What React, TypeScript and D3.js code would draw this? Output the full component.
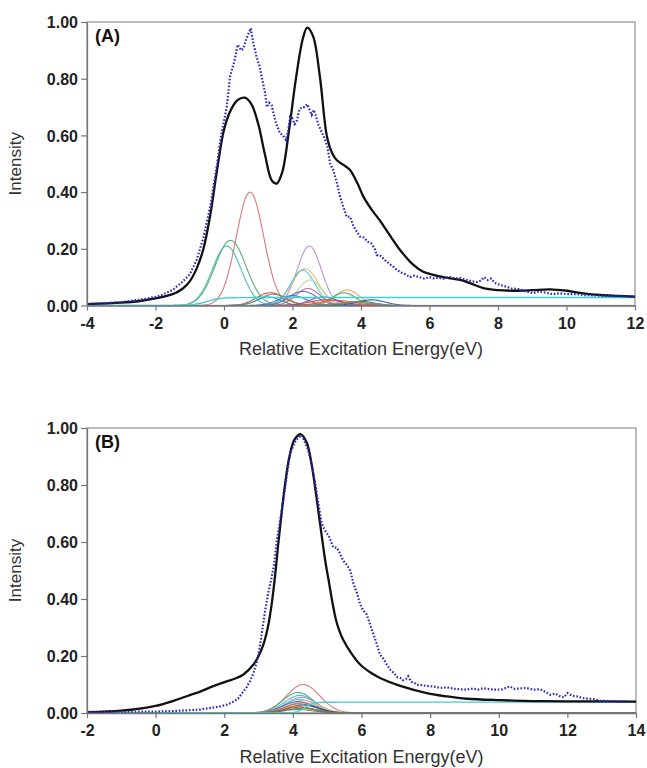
import React, { useEffect, useRef } from "react";
import * as d3 from "d3";

// ---------- Panel A data ----------
const aCalcE = [-4, -3, -2.5, -2, -1.5, -1.2, -1.0, -0.8, -0.6, -0.4, -0.2, 0.0, 0.2, 0.4, 0.61, 0.8, 1.0, 1.2, 1.4, 1.54, 1.7, 1.9, 2.1, 2.3, 2.43, 2.6, 2.8, 3.0, 3.15, 3.29, 3.5, 3.68, 3.9, 4.07, 4.3, 4.55, 4.8, 5.14, 5.53, 5.8, 6.11, 6.5, 6.89, 7.2, 7.57, 8.0, 8.45, 9.0, 9.52, 10.0, 10.49, 11.0, 11.5, 12.0];
const aCalcI = [0.005, 0.01, 0.015, 0.025, 0.04, 0.06, 0.085, 0.13, 0.2, 0.32, 0.48, 0.62, 0.69, 0.725, 0.733, 0.71, 0.64, 0.53, 0.44, 0.43, 0.47, 0.62, 0.8, 0.94, 0.98, 0.95, 0.807, 0.6, 0.54, 0.513, 0.495, 0.478, 0.43, 0.384, 0.34, 0.3, 0.255, 0.196, 0.143, 0.12, 0.108, 0.098, 0.09, 0.078, 0.061, 0.054, 0.052, 0.054, 0.057, 0.052, 0.043, 0.037, 0.034, 0.031];

const aExpE = [-4.0, -3.5, -3.0, -2.5, -2.0, -1.8, -1.5, -1.2, -1.0, -0.8, -0.6, -0.4, -0.2, -0.1, 0.0, 0.08, 0.18, 0.3, 0.4, 0.5, 0.56, 0.65, 0.78, 0.85, 0.95, 1.05, 1.1, 1.2, 1.25, 1.32, 1.39, 1.5, 1.63, 1.72, 1.81, 1.88, 1.93, 2.0, 2.06, 2.12, 2.2, 2.27, 2.35, 2.43, 2.5, 2.56, 2.62, 2.68, 2.75, 2.82, 2.9, 2.95, 3.02, 3.1, 3.19, 3.3, 3.39, 3.48, 3.58, 3.68, 3.78, 3.88, 3.97, 4.08, 4.2, 4.3, 4.4, 4.46, 4.55, 4.7, 4.85, 4.94, 5.05, 5.2, 5.3, 5.43, 5.55, 5.7, 5.85, 6.0, 6.11, 6.25, 6.4, 6.6, 6.75, 6.9, 7.09, 7.25, 7.4, 7.5, 7.6, 7.7, 7.8, 7.9, 8.0, 8.25, 8.4, 8.6, 8.8, 9.03, 9.2, 9.4, 9.6, 9.81, 10.0, 10.3, 10.5, 11.0, 11.5, 12.0];
const aExpI = [0.005, 0.008, 0.012, 0.02, 0.03, 0.038, 0.055, 0.085, 0.11, 0.16, 0.24, 0.35, 0.5, 0.59, 0.65, 0.7, 0.81, 0.86, 0.92, 0.9, 0.905, 0.94, 0.978, 0.93, 0.877, 0.84, 0.807, 0.75, 0.7, 0.715, 0.707, 0.65, 0.608, 0.6, 0.584, 0.62, 0.666, 0.66, 0.64, 0.648, 0.69, 0.7, 0.7, 0.71, 0.69, 0.672, 0.69, 0.67, 0.64, 0.62, 0.6, 0.584, 0.56, 0.5, 0.478, 0.43, 0.384, 0.35, 0.313, 0.313, 0.28, 0.26, 0.243, 0.24, 0.225, 0.219, 0.2, 0.178, 0.178, 0.16, 0.145, 0.137, 0.125, 0.115, 0.11, 0.1, 0.105, 0.1, 0.095, 0.1, 0.096, 0.098, 0.095, 0.1, 0.095, 0.097, 0.09, 0.085, 0.083, 0.088, 0.1, 0.09, 0.095, 0.08, 0.075, 0.066, 0.06, 0.058, 0.05, 0.043, 0.05, 0.045, 0.04, 0.043, 0.04, 0.04, 0.037, 0.035, 0.033, 0.031];

// component peaks: centre, height, width
const aCompCenter = [0.76, 0.19, 0.08, 2.49, 2.37, 2.3, 2.51, 2.45, 2.3, 1.35, 1.45, 1.3, 3.6, 3.5, 2.0, 3.0, 3.3, 4.3, 2.9, 4.0, 3.8];
const aCompHeight = [0.4, 0.23, 0.21, 0.21, 0.13, 0.125, 0.09, 0.06, 0.05, 0.045, 0.04, 0.03, 0.055, 0.045, 0.035, 0.02, 0.018, 0.02, 0.03, 0.015, 0.012];
const aCompWidth = [0.4, 0.45, 0.42, 0.35, 0.38, 0.36, 0.36, 0.35, 0.4, 0.4, 0.4, 0.35, 0.35, 0.35, 0.4, 0.5, 0.5, 0.4, 0.4, 0.4, 0.5];
const aCompColor = ["#d9676b", "#4ea36a", "#40b7b5", "#b088d8", "#f0b060", "#40c8d0", "#a8d890", "#c060a0", "#5060d0", "#b05040", "#a07050", "#20a0a0", "#f0a050", "#40a060", "#3070c0", "#e04030", "#e06020", "#4050b0", "#8050b0", "#30a040", "#808080"];
// baseline step: height, onset, width
const aStep = [0.028, -0.5, 0.2];

// ---------- Panel B data ----------
const bCalcE = [-2, -1, 0, 0.5, 1.0, 1.3, 1.7, 2.07, 2.3, 2.56, 2.85, 3.0, 3.14, 3.27, 3.38, 3.48, 3.58, 3.68, 3.78, 3.9, 4.05, 4.23, 4.4, 4.55, 4.7, 4.82, 4.94, 5.05, 5.15, 5.25, 5.35, 5.47, 5.7, 5.96, 6.25, 6.54, 7.13, 7.9, 8.5, 9.07, 10.04, 11.0, 12.0, 14.0];
const bCalcI = [0.003, 0.008, 0.025, 0.042, 0.063, 0.075, 0.095, 0.111, 0.12, 0.135, 0.17, 0.2, 0.24, 0.3, 0.38, 0.48, 0.6, 0.71, 0.81, 0.9, 0.96, 0.978, 0.95, 0.87, 0.746, 0.64, 0.537, 0.46, 0.39, 0.33, 0.29, 0.256, 0.21, 0.17, 0.143, 0.123, 0.095, 0.07, 0.058, 0.05, 0.045, 0.042, 0.041, 0.04];

const bExpE = [-2, -1, 0, 0.5, 1.0, 1.3, 1.6, 1.88, 2.1, 2.27, 2.4, 2.56, 2.65, 2.75, 2.85, 2.95, 3.02, 3.09, 3.19, 3.28, 3.38, 3.45, 3.53, 3.62, 3.72, 3.82, 3.92, 4.02, 4.1, 4.26, 4.35, 4.45, 4.55, 4.65, 4.75, 4.84, 4.94, 5.05, 5.18, 5.28, 5.37, 5.47, 5.57, 5.67, 5.77, 5.87, 5.96, 6.05, 6.15, 6.25, 6.35, 6.45, 6.54, 6.64, 6.74, 6.85, 6.95, 7.05, 7.13, 7.2, 7.3, 7.36, 7.45, 7.55, 7.61, 7.75, 7.9, 8.1, 8.3, 8.5, 8.7, 8.9, 9.07, 9.25, 9.4, 9.55, 9.75, 9.94, 10.1, 10.2, 10.33, 10.45, 10.6, 10.8, 11.0, 11.2, 11.35, 11.5, 11.65, 11.8, 11.9, 12.0, 12.15, 12.3, 12.47, 12.65, 12.8, 12.96, 13.2, 13.5, 13.75];
const bExpI = [0.003, 0.004, 0.005, 0.007, 0.01, 0.012, 0.018, 0.023, 0.03, 0.04, 0.05, 0.076, 0.09, 0.111, 0.14, 0.18, 0.22, 0.276, 0.358, 0.42, 0.475, 0.52, 0.605, 0.67, 0.746, 0.83, 0.911, 0.94, 0.96, 0.975, 0.95, 0.922, 0.87, 0.805, 0.73, 0.664, 0.64, 0.62, 0.581, 0.58, 0.56, 0.534, 0.52, 0.5, 0.452, 0.42, 0.382, 0.36, 0.346, 0.31, 0.276, 0.24, 0.205, 0.19, 0.17, 0.15, 0.14, 0.125, 0.123, 0.115, 0.12, 0.129, 0.11, 0.105, 0.099, 0.098, 0.095, 0.093, 0.088, 0.09, 0.085, 0.083, 0.082, 0.086, 0.082, 0.087, 0.083, 0.082, 0.083, 0.088, 0.093, 0.085, 0.086, 0.088, 0.082, 0.083, 0.075, 0.064, 0.068, 0.058, 0.055, 0.07, 0.06, 0.058, 0.052, 0.05, 0.048, 0.043, 0.042, 0.041, 0.041];

const bCompCenter = [4.3, 4.15, 4.2, 4.25, 4.2, 4.3, 4.15, 4.25, 4.2, 4.3, 4.1, 4.2, 4.25, 4.15];
const bCompHeight = [0.1, 0.072, 0.062, 0.055, 0.048, 0.044, 0.04, 0.036, 0.032, 0.028, 0.024, 0.02, 0.016, 0.012];
const bCompWidth = [0.48, 0.45, 0.45, 0.45, 0.45, 0.45, 0.45, 0.45, 0.45, 0.45, 0.45, 0.45, 0.45, 0.45];
const bCompColor = ["#d9676b", "#4ea36a", "#40b7b5", "#b088d8", "#40c8d0", "#f0c060", "#5060d0", "#c060a0", "#8a8a40", "#304090", "#f08040", "#a05030", "#30a040", "#707070"];
const bStep = [0.038, 4.35, 0.12];

const xTicksA = [-4, -2, 0, 2, 4, 6, 8, 10, 12];
const xTicksB = [-2, 0, 2, 4, 6, 8, 10, 12, 14];
const yTicks = [0, 0.2, 0.4, 0.6, 0.8, 1.0];

type PanelProps = {
  label: string;
  xDomain: [number, number];
  left: number; right: number; top: number; bottom: number;
  xTicks: number[];
  calcE: number[]; calcI: number[];
  expE: number[]; expI: number[];
  cC: number[]; cH: number[]; cW: number[]; cCol: string[];
  step: number[];
  titleY: number;
};

const FONT = "Liberation Sans, Arial, sans-serif";

function Panel(p: PanelProps) {
  const xAxisRef = useRef<SVGGElement>(null);
  const yAxisRef = useRef<SVGGElement>(null);
  const x = d3.scaleLinear().domain(p.xDomain).range([p.left, p.right]);
  const y = d3.scaleLinear().domain([0, 1]).range([p.bottom, p.top]);

  useEffect(() => {
    const xa = d3.select(xAxisRef.current!);
    xa.call(d3.axisBottom(x).tickValues(p.xTicks).tickSize(5).tickSizeOuter(0).tickFormat((d: any) => String(d)) as any);
    xa.select(".domain").attr("stroke", "#777").attr("stroke-width", 1.3);
    xa.selectAll(".tick line").attr("stroke", "#777").attr("stroke-width", 1.2);
    xa.selectAll(".tick text").attr("font-family", FONT).attr("font-weight", "bold").attr("font-size", 16).attr("fill", "#222").attr("dy", "0.95em");
    const ya = d3.select(yAxisRef.current!);
    ya.call(d3.axisLeft(y).tickValues(yTicks).tickSize(6).tickSizeOuter(0).tickFormat(d3.format(".2f")) as any);
    ya.select(".domain").attr("stroke", "#777").attr("stroke-width", 1.3);
    ya.selectAll(".tick line").attr("stroke", "#777").attr("stroke-width", 1.2);
    ya.selectAll(".tick text").attr("font-family", FONT).attr("font-weight", "bold").attr("font-size", 16).attr("fill", "#222").attr("x", -9).attr("dy", "0.36em");
  });

  const grid = d3.range(p.xDomain[0], p.xDomain[1] + 0.001, 0.04);
  const line = d3.line<[number, number]>().x(d => x(d[0])).y(d => y(d[1]));
  const smooth = d3.line<[number, number]>().x(d => x(d[0])).y(d => y(d[1])).curve(d3.curveCatmullRom.alpha(0.5));

  const comps = p.cC.map((c, i) => {
    const pts: [number, number][] = grid.map(e => [e, p.cH[i] * Math.exp(-0.5 * ((e - c) / p.cW[i]) ** 2)]);
    return <path key={i} d={line(pts) || ""} fill="none" stroke={p.cCol[i]} strokeWidth={1.1} opacity={0.9} />;
  });
  const stepPts: [number, number][] = grid.map(e => [e, p.step[0] / (1 + Math.exp(-(e - p.step[1]) / p.step[2]))]);
  const calc: [number, number][] = p.calcE.map((e, i) => [e, p.calcI[i]]);
  const exp: [number, number][] = p.expE.map((e, i) => [e, p.expI[i]]);

  const cx = (p.left + p.right) / 2;
  const cy = (p.top + p.bottom) / 2;

  return (
    <g>
      <rect x={p.left} y={p.top} width={p.right - p.left} height={p.bottom - p.top} fill="none" stroke="#999" strokeWidth={1.3} />
      {comps}
      <path d={line(stepPts) || ""} fill="none" stroke="#40d0d8" strokeWidth={1.4} />
      <path d={smooth(calc) || ""} fill="none" stroke="#111" strokeWidth={2.3} />
      <path d={line(exp) || ""} fill="none" stroke="#2a2ac0" strokeWidth={2.2} strokeDasharray="1.6,1.8" />
      <g ref={xAxisRef} transform={`translate(0,${p.bottom})`} />
      <g ref={yAxisRef} transform={`translate(${p.left},0)`} />
      <text x={p.left + 8} y={p.top + 20} fontFamily={FONT} fontWeight="bold" fontSize={18} fill="#111">{p.label}</text>
      <text transform={`translate(17,${cy}) rotate(-90)`} textAnchor="middle" dominantBaseline="middle" fontFamily={FONT} fontSize={17} fill="#333">Intensity</text>
      <text x={cx} y={p.titleY} textAnchor="middle" fontFamily={FONT} fontSize={18} fill="#333">Relative Excitation Energy(eV)</text>
    </g>
  );
}

export default function App() {
  return (
    <svg width={647} height={768} style={{ position: "absolute", left: 0, top: 0, background: "#fff" }}>
      <Panel label="(A)" xDomain={[-4, 12]} left={87} right={635} top={22} bottom={305.5} xTicks={xTicksA}
        calcE={aCalcE} calcI={aCalcI} expE={aExpE} expI={aExpI}
        cC={aCompCenter} cH={aCompHeight} cW={aCompWidth} cCol={aCompColor} step={aStep} titleY={355} />
      <Panel label="(B)" xDomain={[-2, 14]} left={87} right={636} top={428} bottom={713} xTicks={xTicksB}
        calcE={bCalcE} calcI={bCalcI} expE={bExpE} expI={bExpI}
        cC={bCompCenter} cH={bCompHeight} cW={bCompWidth} cCol={bCompColor} step={bStep} titleY={763} />
    </svg>
  );
}
